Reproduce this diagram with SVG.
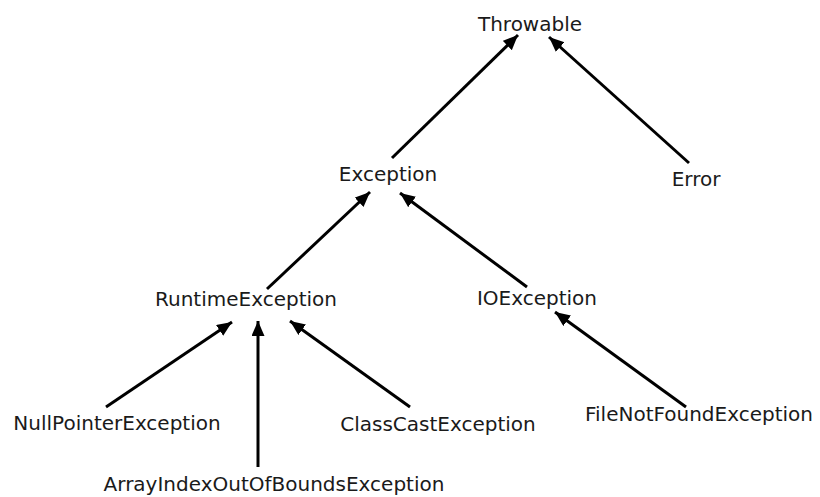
<svg xmlns="http://www.w3.org/2000/svg" width="820" height="497" viewBox="0 0 820 497">
<defs>
<marker id="ah" markerUnits="userSpaceOnUse" markerWidth="16" markerHeight="14" refX="15" refY="6.5" orient="auto">
<path d="M0,0 L15,6.5 L0,13 z" fill="#000"/>
</marker>
<style>
text{font-family:"DejaVu Sans","Liberation Sans",sans-serif;font-size:20px;fill:#1a1a1a;text-anchor:middle}
.c line{stroke:#000;stroke-width:3;marker-end:url(#ah)}
</style>
</defs>
<rect width="820" height="497" fill="#fff"/>
<g class="c" id="connectors">
<line x1="392" y1="158" x2="518" y2="35"/>
<line x1="689" y1="163" x2="549" y2="37"/>
<line x1="267" y1="289" x2="370" y2="192"/>
<line x1="527" y1="287" x2="400" y2="193"/>
<line x1="106" y1="407" x2="232" y2="322"/>
<line x1="258" y1="467" x2="258" y2="321"/>
<line x1="410" y1="407" x2="290" y2="321"/>
<line x1="686" y1="407" x2="555" y2="312"/>
</g>
<g id="throwable"><text x="530" y="31">Throwable</text></g>
<g id="exception"><text x="388" y="181">Exception</text></g>
<g id="error"><text x="696" y="185.5">Error</text></g>
<g id="runtimeexception"><text x="246" y="306">RuntimeException</text></g>
<g id="ioexception"><text x="537" y="305">IOException</text></g>
<g id="nullpointerexception"><text x="117" y="429.5">NullPointerException</text></g>
<g id="classcastexception"><text x="438" y="431">ClassCastException</text></g>
<g id="filenotfoundexception"><text x="699" y="421">FileNotFoundException</text></g>
<g id="arrayindexoutofboundsexception"><text x="274" y="491">ArrayIndexOutOfBoundsException</text></g>
</svg>
